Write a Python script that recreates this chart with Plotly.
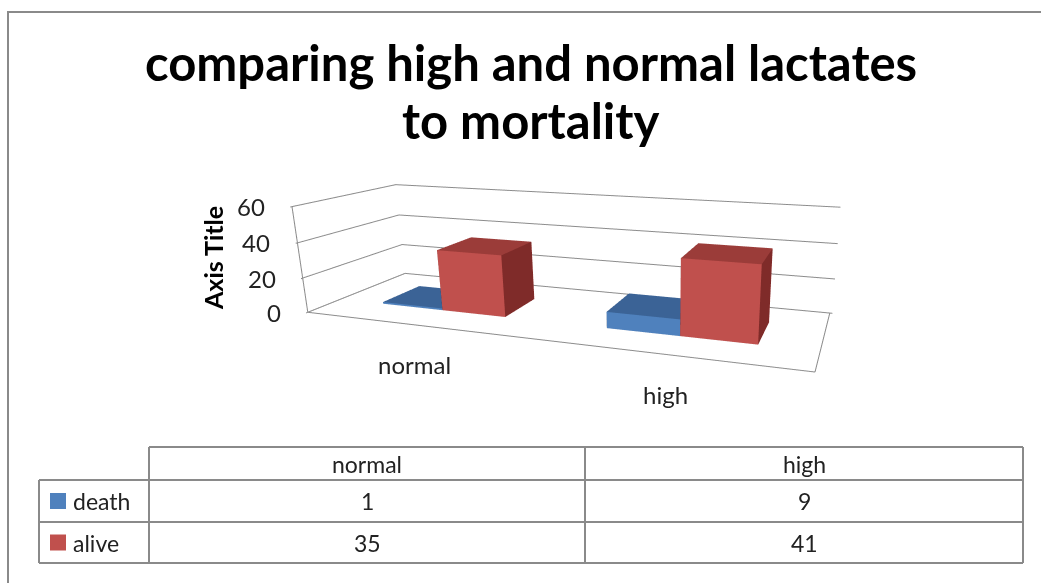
import math
import plotly.graph_objects as go

# Lactate groups and outcome counts
categories = ["normal", "high"]
series_names = ["death", "alive"]
death = [1, 9]
alive = [35, 41]
z_ticks = [0, 20, 40, 60]

W, H = 1041, 583
FONT = "Lato"
GRID = "#8c8c8c"
TXT = "#222222"

# face colours: front, top, right side
palette = {
    "death": ("#4f81bd", "#3b6396", "#2e4d75"),
    "alive": ("#c0504d", "#9b3c39", "#7f2b29"),
}

# 3D clustered layout: gap width 150%, gap depth 150%
bw = 1 / 3.5
x_min, x_max = -0.5, len(categories) - 0.5
y_min, y_max = 0.0, 2.5 * bw
bar_y0, bar_y1 = 0.75 * bw, 1.75 * bw
pad = 0.01  # keeps the floor edge off the clipping boundary


def cuboid(x0, x1, y0, y1, z1, colors, name):
    front, top, side = colors
    xs = [x0, x1, x1, x0, x0, x1, x1, x0]
    ys = [y0, y0, y1, y1, y0, y0, y1, y1]
    zs = [0, 0, 0, 0, z1, z1, z1, z1]
    tri = [
        (0, 1, 5), (0, 5, 4),  # front
        (4, 5, 6), (4, 6, 7),  # top
        (1, 2, 6), (1, 6, 5),  # right
        (0, 3, 7), (0, 7, 4),  # left
        (3, 2, 6), (3, 6, 7),  # back
        (0, 1, 2), (0, 2, 3),  # bottom
    ]
    fc = [front] * 2 + [top] * 2 + [side] * 2 + [side] * 2 + [front] * 2 + [top] * 2
    return go.Mesh3d(
        x=xs, y=ys, z=zs,
        i=[t[0] for t in tri], j=[t[1] for t in tri], k=[t[2] for t in tri],
        facecolor=fc, flatshading=True, name=name, showlegend=False,
        lighting=dict(ambient=1, diffuse=0, specular=0, roughness=1, fresnel=0),
        hoverinfo="skip",
    )


fig = go.Figure()
values = {"death": death, "alive": alive}
for ci, cat in enumerate(categories):
    for si, s in enumerate(series_names):
        x0 = ci - bw + si * bw
        fig.add_trace(cuboid(x0, x0 + bw, bar_y0, bar_y1, values[s][ci], palette[s], s))

# floor outline and front wall edge
frame = dict(mode="lines", line=dict(color=GRID, width=2), hoverinfo="skip", showlegend=False)
fig.add_trace(go.Scatter3d(x=[x_min, x_max], y=[y_min, y_min], z=[0, 0], **frame))
fig.add_trace(go.Scatter3d(x=[x_max, x_max], y=[y_min, y_max], z=[0, 0], **frame))
fig.add_trace(go.Scatter3d(x=[x_min, x_min], y=[y_min, y_min], z=[0, z_ticks[-1]], **frame))

axis_common = dict(showgrid=False, zeroline=False, showline=False, showticklabels=False,
                   showbackground=False, showspikes=False, title=dict(text=""))

tick_font = dict(family=FONT, size=24, color=TXT)
scene_ann = []
for ci, cat in enumerate(categories):
    scene_ann.append(dict(x=ci, y=y_min, z=0, text=cat, showarrow=False, yshift=-40,
                          xanchor="center", yanchor="middle", font=tick_font))
for t in z_ticks:
    scene_ann.append(dict(x=x_min, y=y_min, z=t, text=str(t), showarrow=False,
                          xanchor="right", yanchor="middle", xshift=-25, font=tick_font))

# camera: view direction from azimuth/elevation, looking at a point offset from the box centre
az, el = math.radians(17.6), math.radians(16.7)
view_dir = (-math.sin(az) * math.cos(el), math.cos(az) * math.cos(el), -math.sin(el))
target = (0.1683, 0.0357, -0.0564)
view_dist = 1.3712
eye = dict(x=target[0] - view_dist * view_dir[0],
           y=target[1] - view_dist * view_dir[1],
           z=target[2] - view_dist * view_dir[2])

fig.update_layout(
    width=W, height=H,
    margin=dict(l=0, r=0, t=0, b=0),
    paper_bgcolor="white",
    showlegend=False,
    scene=dict(
        domain=dict(x=[269 / W, 1.0], y=[0.0, 1.0]),
        xaxis=dict(range=[x_min, x_max + pad], **axis_common),
        yaxis=dict(range=[y_min - pad, y_max], **axis_common),
        zaxis=dict(range=[0, 60], tickvals=z_ticks, showgrid=True, gridcolor=GRID, gridwidth=2,
                   zeroline=False, showline=False, showticklabels=False, showbackground=False,
                   showspikes=False, title=dict(text="")),
        aspectmode="manual",
        aspectratio=dict(x=1.0, y=0.3148, z=0.2128),
        camera=dict(eye=eye, center=dict(x=target[0], y=target[1], z=target[2]),
                    projection=dict(type="perspective")),
        annotations=scene_ann,
    ),
)

# title, one annotation per line
title_font = dict(family=FONT, size=49, color="black")
for text, cy in [("<b>comparing high and normal lactates</b>", 62), ("<b>to mortality</b>", 120)]:
    fig.add_annotation(x=531 / W, y=1 - cy / H, xref="paper", yref="paper", showarrow=False,
                       xanchor="center", yanchor="middle", text=text, font=title_font)
# axis title
fig.add_annotation(x=213 / W, y=1 - 258 / H, xref="paper", yref="paper", showarrow=False,
                   xanchor="center", yanchor="middle",
                   text="<b>Axis Title</b>", textangle=-90,
                   font=dict(family=FONT, size=25, color="black"))

# outer chart border
fig.add_shape(type="rect", xref="paper", yref="paper", x0=8 / W, x1=1.02, y0=-0.02, y1=1 - 12 / H,
              line=dict(color="#8a8a8a", width=2))

# data table
tl = dict(color="#8a8a8a", width=2)
px = lambda v: v / W
py = lambda v: 1 - v / H
col_x = [39, 149, 585, 1023]
row_y = [447, 480, 522, 563]
lines = [
    (col_x[1], row_y[0], col_x[3], row_y[0]),
    (col_x[0], row_y[1], col_x[3], row_y[1]),
    (col_x[0], row_y[2], col_x[3], row_y[2]),
    (col_x[0], row_y[3], col_x[3], row_y[3]),
    (col_x[0], row_y[1], col_x[0], row_y[3]),
    (col_x[1], row_y[0], col_x[1], row_y[3]),
    (col_x[2], row_y[0], col_x[2], row_y[3]),
    (col_x[3], row_y[0], col_x[3], row_y[3]),
]
for x0, y0, x1, y1 in lines:
    fig.add_shape(type="line", xref="paper", yref="paper", x0=px(x0), y0=py(y0), x1=px(x1), y1=py(y1), line=tl)

tfont = dict(family=FONT, size=23, color=TXT)
for ci, cat in enumerate(categories):
    cx = (col_x[ci + 1] + col_x[ci + 2]) / 2
    fig.add_annotation(x=px(cx), y=py((row_y[0] + row_y[1]) / 2), xref="paper", yref="paper",
                       xanchor="center", yanchor="middle", text=cat, showarrow=False, font=tfont)
for si, s in enumerate(series_names):
    cy = (row_y[si + 1] + row_y[si + 2]) / 2
    fig.add_shape(type="rect", xref="paper", yref="paper", x0=px(50), x1=px(66),
                  y0=py(cy + 8), y1=py(cy - 8), fillcolor=palette[s][0], line=dict(width=0))
    fig.add_annotation(x=px(71), y=py(cy), xref="paper", yref="paper", text=s, showarrow=False,
                       xanchor="left", yanchor="middle", font=tfont)
    for ci in range(len(categories)):
        cx = (col_x[ci + 1] + col_x[ci + 2]) / 2
        fig.add_annotation(x=px(cx), y=py(cy), xref="paper", yref="paper", text=str(values[s][ci]),
                           xanchor="center", yanchor="middle", showarrow=False, font=tfont)

fig.write_html("out.html", config=dict(displayModeBar=False))
